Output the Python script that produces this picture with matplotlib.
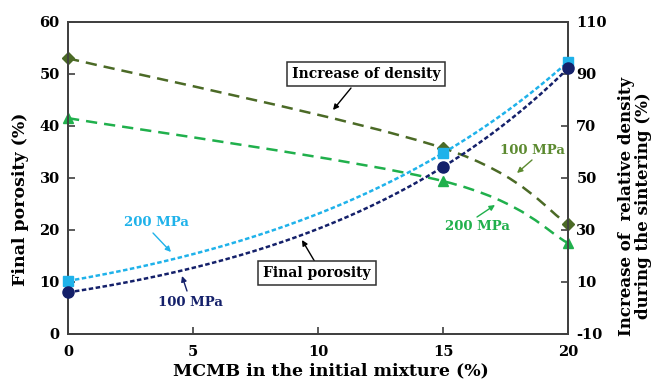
import numpy as np
import matplotlib
matplotlib.use("Agg")
import matplotlib.pyplot as plt
from matplotlib.path import Path
from matplotlib.patches import PathPatch

# data
mcmb = [0, 15, 20]
poro_100 = [8.0, 32.1, 51.1]
poro_200 = [10.2, 34.8, 52.3]
dens_100 = [96.0, 61.5, 32.2]
dens_200 = [73.0, 48.8, 25.0]

navy = '#14206a'
lblue = '#1fb2ea'
olive = '#4b6a26'
green = '#20b04c'
olive_txt = '#5c8a30'

plt.rcParams['font.family'] = 'DejaVu Serif'
plt.rcParams['font.weight'] = 'bold'
plt.rcParams['axes.unicode_minus'] = False


def exp_trend(x, y):
    # excel style exponential trendline
    k, lna = np.polyfit(x, np.log(y), 1)
    xs = np.linspace(min(x), max(x), 200)
    return xs, np.exp(lna) * np.exp(k * xs)


def smooth_path(x, y):
    # bezier smoothed line through the points (like excel "smoothed line")
    pts = np.column_stack([x, y]).astype(float)
    n = len(pts)
    verts = [pts[0]]
    codes = [Path.MOVETO]
    for i in range(n - 1):
        p0 = pts[max(i - 1, 0)]
        p1 = pts[i]
        p2 = pts[i + 1]
        p3 = pts[min(i + 2, n - 1)]
        c1 = p1 + (p2 - p0) / 6.0
        c2 = p2 - (p3 - p1) / 6.0
        verts += [c1, c2, p2]
        codes += [Path.CURVE4] * 3
    return Path(verts, codes)


fig = plt.figure(figsize=(6.54, 3.85), dpi=100)
ax = fig.add_axes([0.104, 0.1325, 0.7645, 0.8105])
ax2 = ax.twinx()

# density curves (right axis)
for yv, col, mk, ms in [(dens_100, olive, 'D', 6), (dens_200, green, '^', 7.5)]:
    ax2.add_patch(PathPatch(smooth_path(mcmb, yv), fill=False, edgecolor=col,
                            lw=1.8, linestyle=(0, (4.5, 2.8)), clip_on=False))
    ax2.plot(mcmb, yv, linestyle='none', marker=mk, color=col, ms=ms, clip_on=False, zorder=5)

# porosity curves (left axis)
for yv, col, mk, ms in [(poro_200, lblue, 's', 7.5), (poro_100, navy, 'o', 8)]:
    xs, ys = exp_trend(mcmb, yv)
    ax.plot(xs, ys, color=col, lw=1.8, linestyle=(0, (1.8, 1.0)), zorder=3)
    ax.plot(mcmb, yv, linestyle='none', marker=mk, color=col, ms=ms, clip_on=False, zorder=6)

ax.set_zorder(ax2.get_zorder() + 1)
ax.patch.set_visible(False)

ax.set_xlim(0, 20)
ax.set_ylim(0, 60)
ax2.set_ylim(-10, 110)
ax.set_xticks([0, 5, 10, 15, 20])
ax.set_yticks(range(0, 61, 10))
ax2.set_yticks(range(-10, 111, 20))

for a in (ax, ax2):
    a.tick_params(direction='in', length=5, width=1.2, color='#404040', labelsize=10.5, pad=6)
    for s in a.spines.values():
        s.set_color('#404040')
        s.set_linewidth(1.3)
ax.tick_params(axis='x', pad=8)

ax.set_xlabel('MCMB in the initial mixture (%)', fontsize=12.5, fontweight='bold')
ax.set_ylabel('Final porosity (%)', fontsize=12.5, fontweight='bold')
ax2.set_ylabel('Increase of  relative density\nduring the sintering (%)', fontsize=12,
               fontweight='bold', linespacing=1.0)
ax.xaxis.set_label_coords(0.526, -0.09)
ax.yaxis.set_label_coords(-0.078, 0.43)
ax2.yaxis.set_label_coords(1.1, 0.41)


def px(x, y):
    # pixel position (from top-left) -> figure fraction
    return (x / 654.0, 1 - y / 385.0)


def note(text, xy_txt, xy_tip, color, box=False, start=None):
    tr = fig.transFigure
    bbox = dict(boxstyle='square,pad=0.35', fc='white', ec='#303030', lw=1.1) if box else None
    fig.text(*px(*xy_txt), text, color=color, fontsize=10 if box else 9.5, fontweight='bold',
             ha='center', va='center', bbox=bbox, zorder=10)
    s = start if start else xy_txt
    ax.annotate('', xy=px(*xy_tip), xycoords=tr, xytext=px(*s), textcoords=tr,
                arrowprops=dict(arrowstyle='-|>', color=color, lw=1, mutation_scale=8,
                                shrinkA=0, shrinkB=0))


note('Increase of density', (366, 74), (333, 110), 'black', box=True, start=(351, 88))
note('Final porosity', (317, 273), (302, 240), 'black', box=True, start=(315, 262))
note('100 MPa', (532, 150), (517, 173), olive_txt, start=(532, 160))
note('200 MPa', (477, 227), (495, 205), green, start=(477, 217))
note('200 MPa', (156, 223), (171, 252), lblue, start=(153, 233))
note('100 MPa', (190, 303), (182, 276), navy, start=(187, 291))

fig.savefig('out.png', dpi=100)
